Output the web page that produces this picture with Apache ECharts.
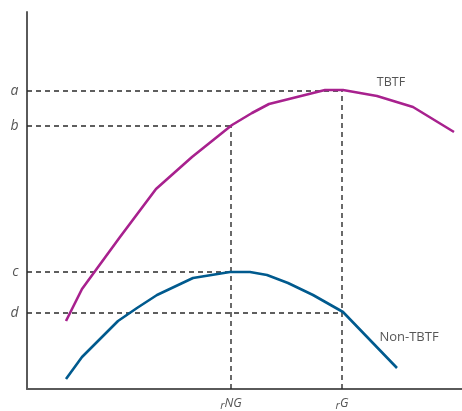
<!DOCTYPE html>
<html>
<head>
<meta charset="utf-8">
<script src="https://cdn.jsdelivr.net/npm/echarts@6/dist/echarts.min.js"></script>
<style>html,body{margin:0;padding:0;background:#fff}#c{width:462px;height:411px}</style>
</head>
<body>
<div id="c"></div>
<script>
// Curves (x: rate units, y: value units)
const tbtfX = [39, 55, 93, 129, 165, 205, 225, 242, 298, 316, 350, 386, 427];
const tbtfY = [68, 100, 152, 200, 232, 264, 276, 285, 299, 299, 293, 282, 257];
const nonX = [39, 55, 91, 110, 130, 166, 203, 223, 240, 261, 286, 316, 370];
const nonY = [10, 32, 68, 81, 94, 111, 117, 117, 114, 106, 94, 77, 21];
// Reference levels
const yRefNames = ['a', 'b', 'c', 'd'];
const yRefValues = [298, 263, 117, 76];
const yRefEnds = [315, 204, 204, 315];
const xRefNames = ['NG', 'G'];
const xRefValues = [204, 315];
const xRefTops = [263, 298];
const seriesNames = ['TBTF', 'Non-TBTF'];

const chart = echarts.init(document.getElementById('c'));
const dash = {color: '#2a2a2a', width: 1.4, type: [5, 4]};
const series = [];
yRefNames.forEach((n, i) => {
  series.push({type: 'line', symbol: 'none', silent: true, lineStyle: dash, z: 1,
    data: [[0, yRefValues[i]], [yRefEnds[i], yRefValues[i]]]});
});
xRefNames.forEach((n, i) => {
  series.push({type: 'line', symbol: 'none', silent: true, lineStyle: dash, z: 1,
    data: [[xRefValues[i], 0], [xRefValues[i], xRefTops[i]]]});
});
series.push({type: 'line', name: seriesNames[0], symbol: 'none', z: 3,
  lineStyle: {color: '#A8218E', width: 2.6}, data: tbtfX.map((x, i) => [x, tbtfY[i]])});
series.push({type: 'line', name: seriesNames[1], symbol: 'none', z: 3,
  lineStyle: {color: '#005A8E', width: 2.6}, data: nonX.map((x, i) => [x, nonY[i]])});
// text labels
const txt = '#2b2b2b';
const lblFont = {fontFamily: 'Open Sans', color: txt};
const rich = {
  r: {fontSize: 11, fontStyle: 'italic', fontFamily: 'Open Sans', color: txt, verticalAlign: 'bottom', lineHeight: 12},
  s: {fontSize: 12.5, fontStyle: 'italic', fontFamily: 'Open Sans', color: txt, verticalAlign: 'bottom', lineHeight: 13, padding: [0, 0, 2, 0]}
};
series.push({type: 'scatter', symbolSize: 1, itemStyle: {color: 'rgba(0,0,0,0)'}, silent: true, z: 5,
  data: yRefNames.map((n, i) => ({value: [0, yRefValues[i]], label: {show: true, position: 'left', distance: 8,
    formatter: n, fontStyle: 'italic', fontSize: 14, ...lblFont}}))
    .concat(xRefNames.map((n, i) => ({value: [xRefValues[i], 0], label: {show: true, position: 'bottom', distance: 9,
      formatter: '{r|r}{s|' + n + '}', rich: rich}})))
    .concat([
      {value: [tbtfX[10], tbtfY[10]], label: {show: true, position: 'inside', offset: [14, -14], formatter: seriesNames[0], fontSize: 12.5, ...lblFont}},
      {value: [nonX[12], nonY[12]], label: {show: true, position: 'inside', offset: [12, -31], formatter: seriesNames[1], fontSize: 13, ...lblFont}}
    ])
});

chart.setOption({
  animation: false,
  grid: {left: 27, top: 12, width: 435, bottom: 22},
  xAxis: {type: 'value', min: 0, max: 435, axisLine: {show: true, lineStyle: {color: '#5a5a5a', width: 2}},
    axisTick: {show: false}, axisLabel: {show: false}, splitLine: {show: false}},
  yAxis: {type: 'value', min: 0, max: 377, axisLine: {show: true, lineStyle: {color: '#5a5a5a', width: 2}},
    axisTick: {show: false}, axisLabel: {show: false}, splitLine: {show: false}},
  series: series
});
</script>
</body>
</html>
